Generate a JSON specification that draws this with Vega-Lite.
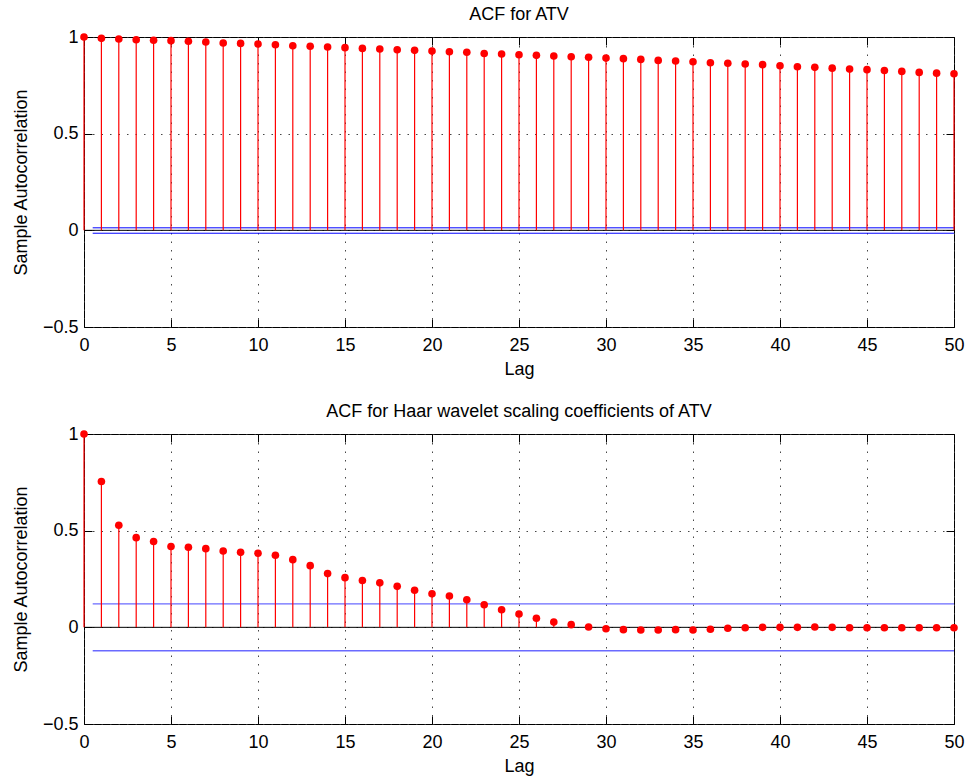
{
  "$schema": "https://vega.github.io/schema/vega-lite/v6.json",
  "padding": {"left": 11, "top": 5, "right": 5, "bottom": 5},
  "datasets": {
    "atv": [
      {"lag": 0, "acf": 1.0}, {"lag": 1, "acf": 0.993}, {"lag": 2, "acf": 0.99}, {"lag": 3, "acf": 0.986}, {"lag": 4, "acf": 0.983},
      {"lag": 5, "acf": 0.981}, {"lag": 6, "acf": 0.978}, {"lag": 7, "acf": 0.974}, {"lag": 8, "acf": 0.969}, {"lag": 9, "acf": 0.967},
      {"lag": 10, "acf": 0.964}, {"lag": 11, "acf": 0.96}, {"lag": 12, "acf": 0.955}, {"lag": 13, "acf": 0.952}, {"lag": 14, "acf": 0.948},
      {"lag": 15, "acf": 0.945}, {"lag": 16, "acf": 0.941}, {"lag": 17, "acf": 0.938}, {"lag": 18, "acf": 0.934}, {"lag": 19, "acf": 0.931},
      {"lag": 20, "acf": 0.927}, {"lag": 21, "acf": 0.924}, {"lag": 22, "acf": 0.921}, {"lag": 23, "acf": 0.915}, {"lag": 24, "acf": 0.912},
      {"lag": 25, "acf": 0.908}, {"lag": 26, "acf": 0.905}, {"lag": 27, "acf": 0.902}, {"lag": 28, "acf": 0.898}, {"lag": 29, "acf": 0.895},
      {"lag": 30, "acf": 0.891}, {"lag": 31, "acf": 0.888}, {"lag": 32, "acf": 0.884}, {"lag": 33, "acf": 0.879}, {"lag": 34, "acf": 0.876},
      {"lag": 35, "acf": 0.872}, {"lag": 36, "acf": 0.867}, {"lag": 37, "acf": 0.864}, {"lag": 38, "acf": 0.86}, {"lag": 39, "acf": 0.857},
      {"lag": 40, "acf": 0.851}, {"lag": 41, "acf": 0.846}, {"lag": 42, "acf": 0.843}, {"lag": 43, "acf": 0.839}, {"lag": 44, "acf": 0.834},
      {"lag": 45, "acf": 0.831}, {"lag": 46, "acf": 0.827}, {"lag": 47, "acf": 0.822}, {"lag": 48, "acf": 0.817}, {"lag": 49, "acf": 0.813},
      {"lag": 50, "acf": 0.81}
    ],
    "haar": [
      {"lag": 0, "acf": 1.0}, {"lag": 1, "acf": 0.754}, {"lag": 2, "acf": 0.528}, {"lag": 3, "acf": 0.464}, {"lag": 4, "acf": 0.444},
      {"lag": 5, "acf": 0.418}, {"lag": 6, "acf": 0.414}, {"lag": 7, "acf": 0.407}, {"lag": 8, "acf": 0.395}, {"lag": 9, "acf": 0.388},
      {"lag": 10, "acf": 0.383}, {"lag": 11, "acf": 0.373}, {"lag": 12, "acf": 0.35}, {"lag": 13, "acf": 0.319}, {"lag": 14, "acf": 0.278},
      {"lag": 15, "acf": 0.257}, {"lag": 16, "acf": 0.242}, {"lag": 17, "acf": 0.23}, {"lag": 18, "acf": 0.212}, {"lag": 19, "acf": 0.192},
      {"lag": 20, "acf": 0.174}, {"lag": 21, "acf": 0.162}, {"lag": 22, "acf": 0.143}, {"lag": 23, "acf": 0.117}, {"lag": 24, "acf": 0.091},
      {"lag": 25, "acf": 0.069}, {"lag": 26, "acf": 0.047}, {"lag": 27, "acf": 0.027}, {"lag": 28, "acf": 0.014}, {"lag": 29, "acf": 0.002},
      {"lag": 30, "acf": -0.007}, {"lag": 31, "acf": -0.012}, {"lag": 32, "acf": -0.014}, {"lag": 33, "acf": -0.014}, {"lag": 34, "acf": -0.012},
      {"lag": 35, "acf": -0.014}, {"lag": 36, "acf": -0.01}, {"lag": 37, "acf": -0.005}, {"lag": 38, "acf": -0.002}, {"lag": 39, "acf": 0.0},
      {"lag": 40, "acf": 0.0}, {"lag": 41, "acf": 0.0}, {"lag": 42, "acf": 0.002}, {"lag": 43, "acf": 0.0}, {"lag": 44, "acf": -0.002},
      {"lag": 45, "acf": -0.002}, {"lag": 46, "acf": -0.002}, {"lag": 47, "acf": -0.002}, {"lag": 48, "acf": -0.002}, {"lag": 49, "acf": -0.002},
      {"lag": 50, "acf": -0.002}
    ],
    "bounds": [
      {"panel": "atv", "lo": 0.5, "hi": 50, "b": 0.013},
      {"panel": "atv", "lo": 0.5, "hi": 50, "b": -0.015},
      {"panel": "haar", "lo": 0.5, "hi": 50, "b": 0.121},
      {"panel": "haar", "lo": 0.5, "hi": 50, "b": -0.121}
    ]
  },
  "spacing": 23,
  "vconcat": [
    {
      "width": 870,
      "height": 290,
      "title": "ACF for ATV",
      "resolve": {"axis": {"x": "independent", "y": "independent"}},
      "layer": [
        {
          "data": {"values": [{"zero": 0}]},
          "mark": {"type": "rule", "color": "black", "strokeWidth": 1},
          "encoding": {
            "y": {"field": "zero", "type": "quantitative", "scale": {"domain": [-0.5, 1], "nice": false}, "axis": null}
          }
        },
        {
          "data": {"name": "bounds"},
          "transform": [{"filter": "datum.panel === 'atv'"}],
          "mark": {"type": "rule", "color": "#0000ff", "strokeWidth": 1},
          "encoding": {
            "x": {"field": "lo", "type": "quantitative", "scale": {"domain": [0, 50], "nice": false},
                  "axis": {"orient": "top", "labels": false, "title": null, "grid": false, "values": [0,5,10,15,20,25,30,35,40,45,50]}},
            "x2": {"field": "hi"},
            "y": {"field": "b", "type": "quantitative", "scale": {"domain": [-0.5, 1], "nice": false},
                  "axis": {"orient": "right", "labels": false, "title": null, "grid": false, "values": [-0.5, 0, 0.5, 1]}}
          }
        },
        {
          "data": {"name": "atv"},
          "mark": {"type": "rule", "color": "#ff0000", "strokeWidth": 1.2},
          "encoding": {
            "x": {"field": "lag", "type": "quantitative", "scale": {"domain": [0, 50], "nice": false}, "axis": null},
            "y": {"field": "acf", "type": "quantitative", "scale": {"domain": [-0.5, 1], "nice": false}, "axis": null},
            "y2": {"datum": 0}
          }
        },
        {
          "data": {"name": "atv"},
          "mark": {"type": "circle", "color": "#ff0000", "opacity": 1, "size": 58},
          "encoding": {
            "x": {"field": "lag", "type": "quantitative", "scale": {"domain": [0, 50], "nice": false},
                  "axis": {"orient": "bottom", "title": "Lag", "grid": true, "values": [0,5,10,15,20,25,30,35,40,45,50]}},
            "y": {"field": "acf", "type": "quantitative", "scale": {"domain": [-0.5, 1], "nice": false},
                  "axis": {"orient": "left", "title": "Sample Autocorrelation", "grid": true, "values": [-0.5, 0, 0.5, 1], "format": "~g"}}
          }
        }
      ]
    },
    {
      "width": 870,
      "height": 290,
      "title": "ACF for Haar wavelet scaling coefficients of ATV",
      "resolve": {"axis": {"x": "independent", "y": "independent"}},
      "layer": [
        {
          "data": {"values": [{"zero": 0}]},
          "mark": {"type": "rule", "color": "black", "strokeWidth": 1},
          "encoding": {
            "y": {"field": "zero", "type": "quantitative", "scale": {"domain": [-0.5, 1], "nice": false}, "axis": null}
          }
        },
        {
          "data": {"name": "bounds"},
          "transform": [{"filter": "datum.panel === 'haar'"}],
          "mark": {"type": "rule", "color": "#6a6aff", "strokeWidth": 1.3},
          "encoding": {
            "x": {"field": "lo", "type": "quantitative", "scale": {"domain": [0, 50], "nice": false},
                  "axis": {"orient": "top", "labels": false, "title": null, "grid": false, "values": [0,5,10,15,20,25,30,35,40,45,50]}},
            "x2": {"field": "hi"},
            "y": {"field": "b", "type": "quantitative", "scale": {"domain": [-0.5, 1], "nice": false},
                  "axis": {"orient": "right", "labels": false, "title": null, "grid": false, "values": [-0.5, 0, 0.5, 1]}}
          }
        },
        {
          "data": {"name": "haar"},
          "mark": {"type": "rule", "color": "#ff0000", "strokeWidth": 1.2},
          "encoding": {
            "x": {"field": "lag", "type": "quantitative", "scale": {"domain": [0, 50], "nice": false}, "axis": null},
            "y": {"field": "acf", "type": "quantitative", "scale": {"domain": [-0.5, 1], "nice": false}, "axis": null},
            "y2": {"datum": 0}
          }
        },
        {
          "data": {"name": "haar"},
          "mark": {"type": "circle", "color": "#ff0000", "opacity": 1, "size": 58},
          "encoding": {
            "x": {"field": "lag", "type": "quantitative", "scale": {"domain": [0, 50], "nice": false},
                  "axis": {"orient": "bottom", "title": "Lag", "grid": true, "values": [0,5,10,15,20,25,30,35,40,45,50]}},
            "y": {"field": "acf", "type": "quantitative", "scale": {"domain": [-0.5, 1], "nice": false},
                  "axis": {"orient": "left", "title": "Sample Autocorrelation", "grid": true, "values": [-0.5, 0, 0.5, 1], "format": "~g"}}
          }
        }
      ]
    }
  ],
  "config": {
    "font": "Liberation Sans",
    "view": {"stroke": "black", "strokeWidth": 1},
    "axis": {
      "labelFont": "Liberation Sans",
      "labelFontSize": 18,
      "labelColor": "black",
      "titleFont": "Liberation Sans",
      "titleFontSize": 18,
      "titleFontWeight": "normal",
      "titleColor": "black",
      "domain": false,
      "ticks": true,
      "tickColor": "black",
      "tickWidth": 1,
      "tickSize": -8,
      "labelPadding": 14,
      "gridColor": "#333333",
      "gridDash": [1.5, 7],
      "gridOpacity": 0.9,
      "labelFlush": false,
      "labelOverlap": false
    },
    "axisX": {"labelPadding": 17, "titlePadding": 6},
    "axisY": {"titlePadding": 12},
    "title": {"font": "Liberation Sans", "fontSize": 18, "fontWeight": "normal", "color": "black", "offset": 4}
  }
}
